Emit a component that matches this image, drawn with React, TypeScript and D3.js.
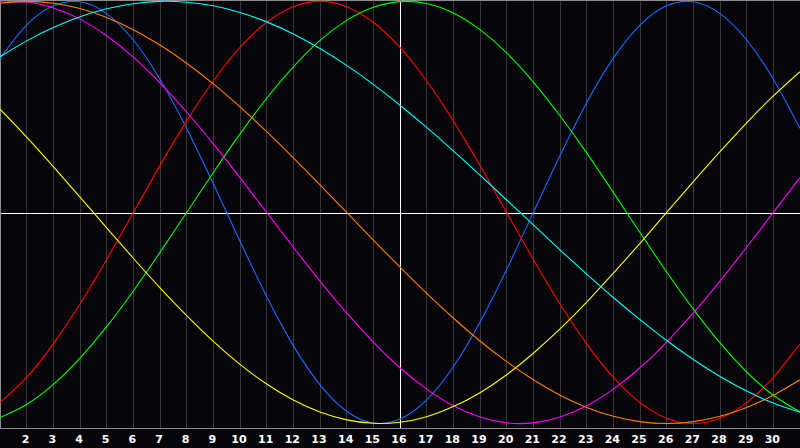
import React from "react";
import * as d3 from "d3";

// Days of the month shown on the x axis
const days = [1,2,3,4,5,6,7,8,9,10,11,12,13,14,15,16,17,18,19,20,21,22,23,24,25,26,27,28,29,30,31];
const dayLabels = [2,3,4,5,6,7,8,9,10,11,12,13,14,15,16,17,18,19,20,21,22,23,24,25,26,27,28,29,30];
const todayDay = 16;

// Cycle values per day (-1 .. 1)
const physical = [0.731,0.888,0.979,0.998,0.942,0.817,0.631,0.398,0.136,-0.136,-0.398,-0.631,-0.817,-0.942,-0.998,-0.979,-0.888,-0.731,-0.520,-0.270,0,0.270,0.520,0.731,0.888,0.979,0.998,0.942,0.817,0.631,0.398];
const emotional = [-0.901,-0.782,-0.623,-0.434,-0.223,0,0.223,0.434,0.623,0.782,0.901,0.975,1,0.975,0.901,0.782,0.623,0.434,0.223,0,-0.223,-0.434,-0.623,-0.782,-0.901,-0.975,-1,-0.975,-0.901,-0.782,-0.623];
const intellectual = [-0.972,-0.910,-0.815,-0.690,-0.541,-0.372,-0.189,0,0.189,0.372,0.541,0.690,0.815,0.910,0.972,0.999,0.990,0.945,0.866,0.756,0.618,0.458,0.282,0.095,-0.095,-0.282,-0.458,-0.618,-0.756,-0.866,-0.945];
const intuitive = [0.997,0.997,0.969,0.916,0.837,0.736,0.614,0.476,0.325,0.165,0,-0.165,-0.325,-0.476,-0.614,-0.736,-0.837,-0.916,-0.969,-0.997,-0.997,-0.969,-0.916,-0.837,-0.736,-0.614,-0.476,-0.325,-0.165,0,0.165];
const aesthetic = [0.489,0.357,0.217,0.073,-0.073,-0.217,-0.357,-0.489,-0.611,-0.720,-0.813,-0.889,-0.946,-0.983,-0.999,-0.994,-0.968,-0.920,-0.854,-0.769,-0.667,-0.552,-0.425,-0.288,-0.146,0,0.146,0.288,0.425,0.552,0.667];
const awareness = [0.991,1,0.991,0.966,0.924,0.866,0.793,0.707,0.609,0.5,0.383,0.259,0.131,0,-0.131,-0.259,-0.383,-0.5,-0.609,-0.707,-0.793,-0.866,-0.924,-0.966,-0.991,-1,-0.991,-0.966,-0.924,-0.866,-0.793];
const spiritual = [0.738,0.813,0.876,0.927,0.965,0.989,1.0,0.996,0.979,0.947,0.903,0.846,0.777,0.697,0.607,0.508,0.403,0.292,0.177,0.059,-0.059,-0.177,-0.292,-0.403,-0.508,-0.607,-0.697,-0.777,-0.846,-0.903,-0.947];

const seriesNames = ["physical", "emotional", "intellectual", "intuitive", "aesthetic", "awareness", "spiritual"];
const seriesValues = [physical, emotional, intellectual, intuitive, aesthetic, awareness, spiritual];
const seriesColors = ["#1a6cff", "#ff0000", "#00ff00", "#ff00ff", "#ffff00", "#ff8000", "#00ffff"];

const W = 800;
const H = 448;
const PLOT_BOTTOM = 428;

export default function App() {
  const x = d3.scaleLinear().domain([1, 31]).range([0, W]);
  const y = d3.scaleLinear().domain([-1, 1]).range([423.5, 1.4]);
  const line = d3
    .line<number>()
    .x((_, i) => x(days[i]))
    .y((v) => y(v))
    .curve(d3.curveNatural);

  const px = (d: number) => Math.floor(x(d)) + 0.5;
  const midY = Math.floor(y(0)) + 1.5;

  return (
    <svg
      width={W}
      height={H}
      style={{ position: "fixed", left: 0, top: 0, display: "block" }}
    >
      <rect x={0} y={0} width={W} height={H} fill="#060509" />
      <g shapeRendering="crispEdges">
        {days.slice(1, -1).map((d) =>
          d === todayDay ? null : (
            <line key={d} x1={px(d)} x2={px(d)} y1={0} y2={PLOT_BOTTOM} stroke="#38383a" strokeWidth={1} />
          )
        )}
        <line x1={0} x2={W} y1={midY} y2={midY} stroke="#ffffff" strokeWidth={1} />
        <line x1={px(todayDay)} x2={px(todayDay)} y1={0} y2={PLOT_BOTTOM} stroke="#ffffff" strokeWidth={1} />
        <line x1={0} x2={W} y1={0.5} y2={0.5} stroke="#8c8c8c" strokeWidth={1} />
        <line x1={0.5} x2={0.5} y1={0} y2={PLOT_BOTTOM} stroke="#8c8c8c" strokeWidth={1} />
        <line x1={0} x2={W} y1={PLOT_BOTTOM + 0.5} y2={PLOT_BOTTOM + 0.5} stroke="#8c8c8c" strokeWidth={1} />
      </g>
      <g fill="none" strokeWidth={1.1}>
        {seriesValues.map((vals, i) => (
          <path key={seriesNames[i]} d={line(vals) || ""} stroke={seriesColors[i]} />
        ))}
      </g>
      <g
        fill="#ffffff"
        fontFamily="'DejaVu Sans', Verdana, sans-serif"
        fontWeight="bold"
        fontSize={11}
        textAnchor="middle"
      >
        {dayLabels.map((d) => (
          <text key={d} x={x(d) - 1} y={442.5}>
            {d}
          </text>
        ))}
      </g>
    </svg>
  );
}
